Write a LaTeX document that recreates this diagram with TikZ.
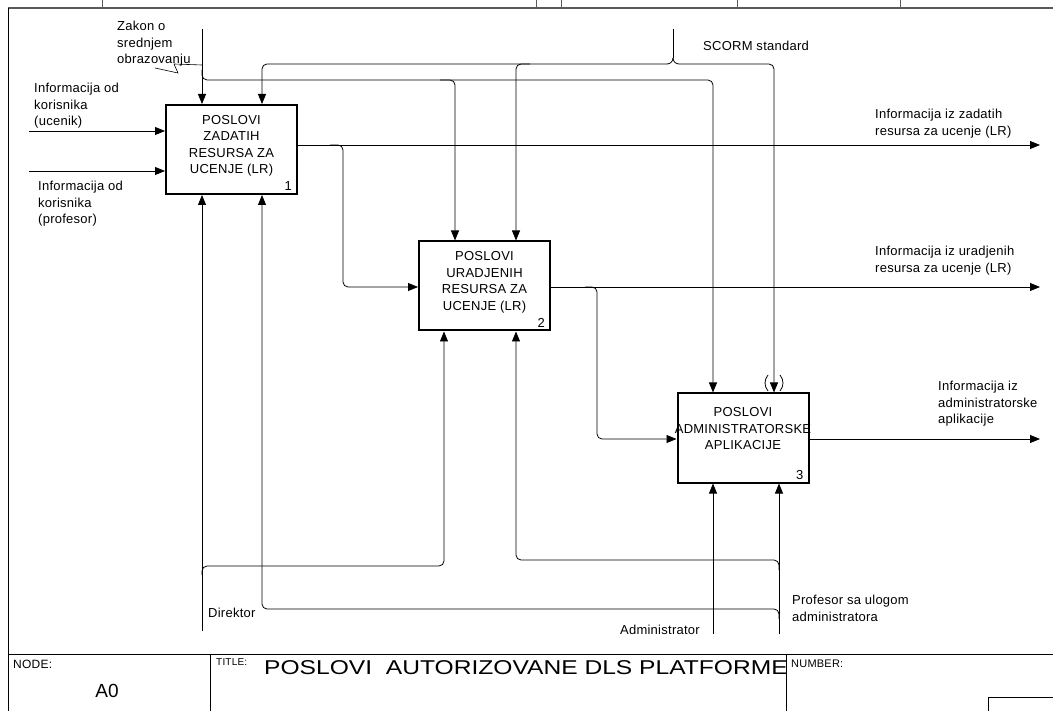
\documentclass[tikz,border=0pt]{standalone}
\usepackage{fontspec}
\setmainfont{Liberation Sans}
\newfontfamily\lbfont[LetterSpace=2]{Liberation Sans}
\usetikzlibrary{arrows.meta}
\begin{document}
\begin{tikzpicture}[x=1pt,y=-1pt,
  ln/.style={line width=0.8pt,black},
  arr/.style={ln,-{Triangle[length=10pt,width=8pt]}},
  rc/.style={rounded corners=5pt},
  txt/.style={font=\lbfont\fontsize{13}{16.5}\selectfont},
  box/.style={draw,line width=2pt,minimum width=131pt,minimum height=89pt,inner sep=0pt},
  boxtxt/.style={txt,align=center,inner sep=0pt,anchor=north},
  boxnum/.style={txt,inner sep=0pt,anchor=south east},
  lbl/.style={txt,align=left,inner sep=0pt}]
\useasboundingbox (0,0) rectangle (1053,711);

% frame
\draw[line width=1.5pt,black!65] (8,8) -- (1053,8);
\draw[line width=1pt] (8,8) -- (8,711);
\foreach \t in {102,536,561,737,900} \draw[line width=0.8pt,black!65] (\t,0) -- (\t,8);

% activity boxes
\node[box] (b1) at (231.5,149.5) {};
\node[box] (b2) at (484.5,286) {};
\node[box] (b3) at (743,438) {};
\node[boxtxt] at ([yshift=-11pt]b1.north) {POSLOVI\\ZADATIH\\RESURSA ZA\\UCENJE (LR)};
\node[boxtxt] at ([yshift=-11pt]b2.north) {POSLOVI\\URADJENIH\\RESURSA ZA\\UCENJE (LR)};
\node[boxtxt] at ([yshift=-15pt]b3.north) {POSLOVI\\ADMINISTRATORSKE\\APLIKACIJE};
\node[boxnum] at ([xshift=-6pt,yshift=4pt]b1.south east) {1};
\node[boxnum] at ([xshift=-6pt,yshift=4pt]b2.south east) {2};
\node[boxnum] at ([xshift=-6pt,yshift=4pt]b3.south east) {3};

% inputs of box 1
\coordinate (in1) at (29,131);
\coordinate (in2) at (29,171);
\draw[arr] (in1) -- (in1 -| b1.west);
\draw[arr] (in2) -- (in2 -| b1.west);
\node[lbl,anchor=north west] at (34,83) {Informacija od\\korisnika\\(ucenik)};
\node[lbl,anchor=north west] at (38,181) {Informacija od\\korisnika\\(profesor)};

% control: Zakon o srednjem obrazovanju
\coordinate (zk) at (202,29);
\draw[arr] (zk) -- (zk |- b1.north);
\draw[arr,rc] (202,70) -- (202,80) -- (455,80) -- (455,0 |- b2.north);
\draw[arr,rc] (440,80) -- (713,80) -- (713,0 |- b3.north);
\node[lbl,anchor=north west] at (117,21) {Zakon o\\srednjem\\obrazovanju};
\draw[line width=0.6pt] (155,68) -- (178,73) -- (174,64) -- (202,65);

% control: SCORM standard
\coordinate (sc) at (673,29);
\draw[ln] (sc) -- (673,58);
\draw[ln] (673,58) to[out=-90,in=0] (667,64);
\draw[ln] (673,58) to[out=-90,in=180] (679,64);
\draw[arr,rc] (667,64) -- (262,64) -- (262,0 |- b1.north);
\draw[arr,rc] (530,64) -- (516,64) -- (516,0 |- b2.north);
\draw[arr,rc] (679,64) -- (774,64) -- (774,0 |- b3.north);
\node[lbl,anchor=west] at (703,46) {SCORM standard};
% tunnel marks
\draw[ln] (768,375) .. controls (764,380) and (764,386) .. (768,391);
\draw[ln] (780,375) .. controls (784,380) and (784,386) .. (780,391);

% outputs
\coordinate (o1) at (1040,145);
\coordinate (o2) at (1040,287);
\coordinate (o3) at (1040,439);
\draw[arr] (o1 -| b1.east) -- (o1);
\draw[arr,rc] (330,145) -- (343,145) -- (343,287) -- (b2.west |- o2);
\draw[arr] (o2 -| b2.east) -- (o2);
\draw[arr,rc] (585,287) -- (597,287) -- (597,439) -- (b3.west |- o3);
\draw[arr] (o3 -| b3.east) -- (o3);
\node[lbl,anchor=north west] at (875,109) {Informacija iz zadatih\\resursa za ucenje (LR)};
\node[lbl,anchor=north west] at (875,246) {Informacija iz uradjenih\\resursa za ucenje (LR)};
\node[lbl,anchor=north west] at (938,381) {Informacija iz\\administratorske\\aplikacije};

% mechanisms
\coordinate (dir) at (202,631);
\coordinate (adm) at (713,634);
\coordinate (pro) at (779,634);
\draw[arr] (dir) -- (dir |- b1.south);
\draw[arr,rc] (202,575) -- (202,566) -- (444,566) -- (444,0 |- b2.south);
\draw[arr] (adm) -- (adm |- b3.south);
\draw[arr] (pro) -- (pro |- b3.south);
\draw[arr,rc] (779,570) -- (779,560) -- (516,560) -- (516,0 |- b2.south);
\draw[arr,rc] (779,619) -- (779,609) -- (262,609) -- (262,0 |- b1.south);
\node[lbl,anchor=west] at (208,613) {Direktor};
\node[lbl,anchor=east] at (700,630) {Administrator};
\node[lbl,anchor=north west] at (792,595) {Profesor sa ulogom\\administratora};

% title block
\draw[line width=1pt] (8,654) -- (1053,654);
\draw[line width=1pt] (210,654) -- (210,711);
\draw[line width=1pt] (786,654) -- (786,711);
\draw[line width=1pt] (988,711) -- (988,697) -- (1053,697);
\node[font=\lbfont\fontsize{12}{14}\selectfont,anchor=west,inner sep=0pt] at (13,664) {NODE:};
\node[font=\fontsize{19}{22}\selectfont,inner sep=0pt] at (107,691) {A0};
\node[font=\lbfont\fontsize{10}{12}\selectfont,anchor=west,inner sep=0pt] at (216,662) {TITLE:};
\node[font=\fontsize{20}{24}\selectfont,anchor=west,inner sep=0pt] at (264,668) {\scalebox{1.23}[1]{POSLOVI\ \ AUTORIZOVANE DLS PLATFORME}};
\node[font=\lbfont\fontsize{11}{13}\selectfont,anchor=west,inner sep=0pt] at (791,664) {NUMBER:};
\end{tikzpicture}
\end{document}
